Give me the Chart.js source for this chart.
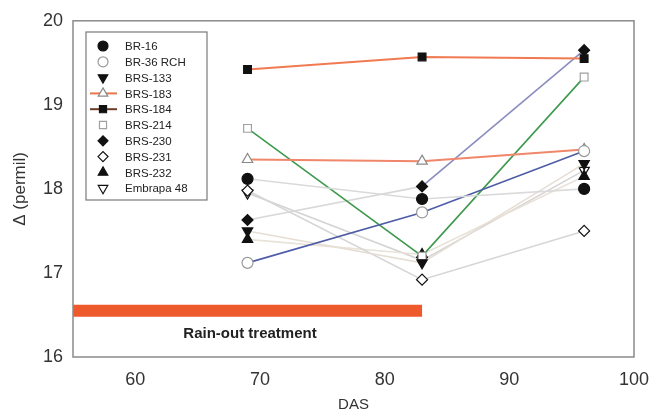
<!DOCTYPE html>
<html>
<head>
<meta charset="utf-8">
<script src="https://cdn.jsdelivr.net/npm/chart.js@4/dist/chart.umd.min.js"></script>
<style>
  html, body { margin: 0; padding: 0; background: #fff; }
  #wrap { width: 649px; height: 416px; }
</style>
</head>
<body>
<div id="wrap"><canvas id="deltaChart"></canvas></div>
<script>
// dados
const das = [69, 83, 96];
const br16 = [18.12, 17.88, 18.0];
const br36rch = [17.12, 17.72, 18.45];
const brs133 = [17.5, 17.12, 18.3];
const brs183 = [18.35, 18.33, 18.47];
const brs184 = [19.42, 19.57, 19.55];
const brs214 = [18.72, 17.2, 19.33];
const brs230 = [17.63, 18.03, 19.65];
const brs231 = [17.98, 16.92, 17.5];
const brs232 = [17.4, 17.22, 18.15];
const embrapa48 = [17.95, 17.15, 18.22];

const rainoutX = [55, 83];
const rainoutY = 16.55;
const rainoutLabel = 'Rain-out treatment';

const xTicks = [60, 70, 80, 90, 100];
const yTicks = [16, 17, 18, 19, 20];

const FONT = "'Liberation Sans', Arial, sans-serif";

function pts(vals) {
    return das.map((d, i) => ({ x: d, y: vals[i] }));
}

// series: label, values, line colour, marker
const series = [
    { label: 'BR-16', data: br16, line: '#dadada', style: 'circle', fill: '#111', edge: '#111' },
    { label: 'BR-36 RCH', data: br36rch, line: '#4f5ca6', style: 'circle', fill: '#fff', edge: '#9a9a9a' },
    { label: 'BRS-133', data: brs133, line: '#e6ded4', style: 'triangle', rot: 180, fill: '#111', edge: '#111' },
    { label: 'BRS-183', data: brs183, line: '#f0866a', style: 'triangle', fill: '#fff', edge: '#8a8a8a', legendLine: '#e8784e' },
    { label: 'BRS-184', data: brs184, line: '#f07b52', style: 'rect', fill: '#111', edge: '#111', legendLine: '#6b3d26' },
    { label: 'BRS-214', data: brs214, line: '#3f9a4e', style: 'rect', fill: '#fff', edge: '#a0a0a0' },
    { label: 'BRS-230', data: brs230, line: '#8b8cc0', first: '#d8d8d8', style: 'rectRot', fill: '#111', edge: '#111' },
    { label: 'BRS-231', data: brs231, line: '#d6d6d6', style: 'rectRot', fill: '#fff', edge: '#111' },
    { label: 'BRS-232', data: brs232, line: '#e8e2d8', style: 'triangle', fill: '#111', edge: '#111' },
    { label: 'Embrapa 48', data: embrapa48, line: '#d4d4d4', style: 'triangle', rot: 180, fill: '#fff', edge: '#111' }
];

const datasets = [{
    label: rainoutLabel,
    data: rainoutX.map(x => ({ x: x, y: rainoutY })),
    borderColor: '#ee5a2c',
    borderWidth: 12,
    borderCapStyle: 'butt',
    pointRadius: 0,
    order: 20
}];

series.forEach(s => {
    datasets.push({
        label: s.label,
        data: pts(s.data),
        borderColor: s.line,
        borderWidth: s.label === 'BRS-184' || s.label === 'BRS-183' ? 2 : 1.6,
        segment: s.first ? { borderColor: c => c.p0DataIndex === 0 ? s.first : s.line } : undefined,
        pointStyle: s.style,
        rotation: s.rot || 0,
        pointRadius: s.style === 'triangle' ? 6 : 5.5,
        pointBackgroundColor: s.fill,
        pointBorderColor: s.edge,
        pointBorderWidth: 1.2
    });
});

// legenda dentro do gráfico + moldura
const legendBox = {
    id: 'legendBox',
    afterDraw(chart) {
        const c = chart.ctx;
        const a = chart.chartArea;
        c.save();
        // moldura do gráfico
        c.strokeStyle = '#8a8a8a';
        c.lineWidth = 1.5;
        c.strokeRect(a.left, a.top, a.right - a.left, a.bottom - a.top);

        // texto da faixa
        const sx = chart.scales.x, sy = chart.scales.y;
        c.fillStyle = '#222';
        c.font = 'bold 15px ' + FONT;
        c.textAlign = 'center';
        c.textBaseline = 'middle';
        c.fillText(rainoutLabel, sx.getPixelForValue(69.2), sy.getPixelForValue(16.28));

        // caixa da legenda
        const bx = 86, by = 32, bw = 121, bh = 168;
        c.strokeStyle = '#7a7a7a';
        c.lineWidth = 1.2;
        c.strokeRect(bx, by, bw, bh);
        c.font = '11.5px ' + FONT;
        c.textAlign = 'left';
        series.forEach((s, i) => {
            const y = by + 14 + i * 15.8;
            const mx = bx + 17;
            if (s.legendLine) {
                c.strokeStyle = s.legendLine;
                c.lineWidth = 2;
                c.beginPath();
                c.moveTo(bx + 4, y);
                c.lineTo(bx + 31, y);
                c.stroke();
            }
            c.fillStyle = s.fill;
            c.strokeStyle = s.edge;
            c.lineWidth = 1.2;
            Chart.helpers.drawPoint(c, {
                pointStyle: s.style,
                rotation: s.rot || 0,
                radius: s.style === 'triangle' ? 5.5 : 5,
                borderWidth: 1.2
            }, mx, y);
            c.fillStyle = '#222';
            c.fillText(s.label, bx + 39, y + 1);
        });
        c.restore();
    }
};

new Chart(document.getElementById('deltaChart'), {
    type: 'line',
    data: { datasets: datasets },
    options: {
        responsive: true,
        maintainAspectRatio: false,
        animation: false,
        layout: { padding: { top: 20, right: 0, left: 10, bottom: 2 } },
        plugins: {
            legend: { display: false },
            tooltip: { enabled: false }
        },
        scales: {
            x: {
                type: 'linear',
                min: 55,
                max: 100,
                afterBuildTicks: axis => { axis.ticks = xTicks.map(v => ({ value: v })); },
                afterFit: axis => { axis.height = 57; axis.paddingRight = 15; },
                grid: { display: false, drawTicks: false },
                border: { display: false },
                ticks: { color: '#333', font: { family: FONT, size: 18 }, padding: 12, maxRotation: 0 },
                title: { display: true, text: 'DAS', color: '#333', font: { family: FONT, size: 15 }, padding: { top: 0, bottom: 0 } }
            },
            y: {
                min: 16,
                max: 20,
                afterBuildTicks: axis => { axis.ticks = yTicks.map(v => ({ value: v })); },
                afterFit: axis => { axis.width = 63; },
                grid: { display: false, drawTicks: false },
                border: { display: false },
                ticks: { color: '#333', font: { family: FONT, size: 18 }, padding: 10 },
                title: { display: true, text: 'Δ (permil)', color: '#333', font: { family: FONT, size: 17 }, padding: { top: 0, bottom: 4 } }
            }
        }
    },
    plugins: [legendBox]
});
</script>
</body>
</html>
